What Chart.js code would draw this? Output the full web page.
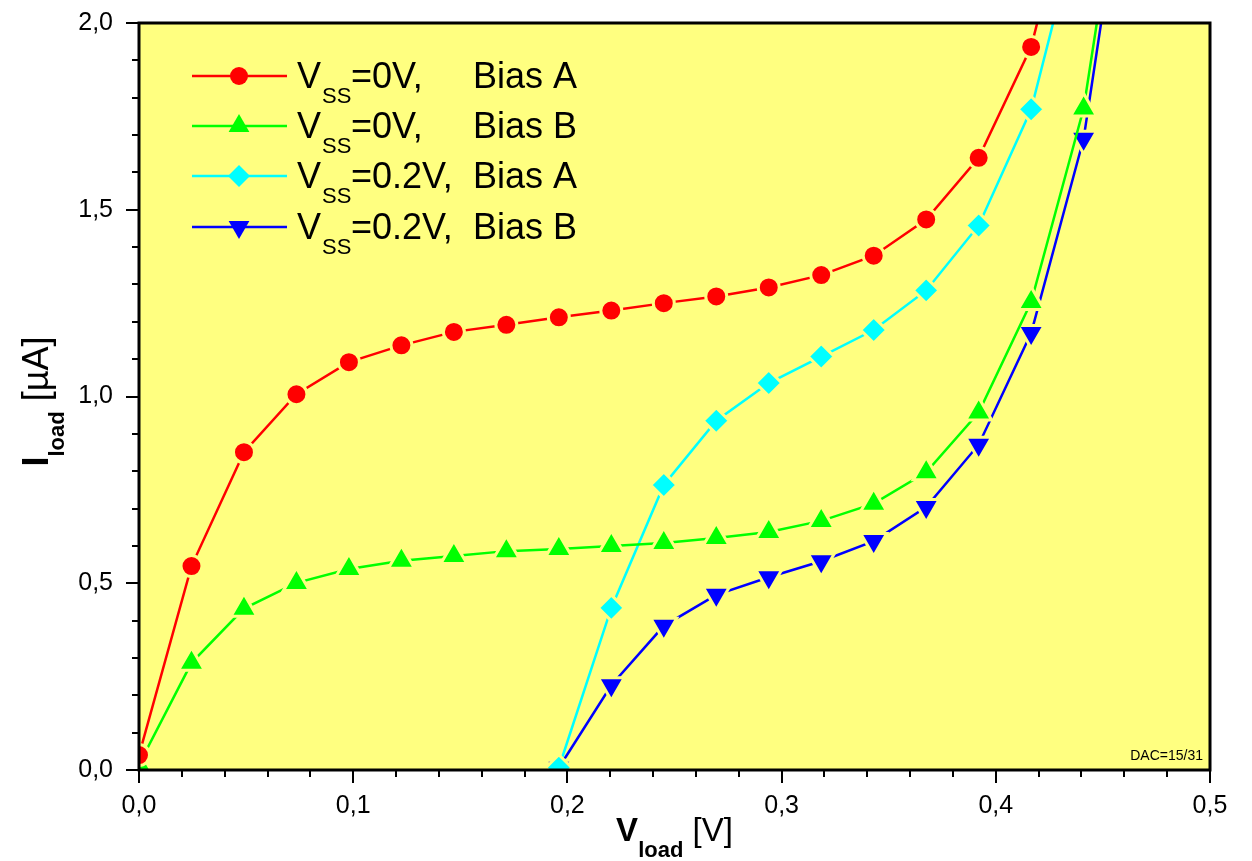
<!DOCTYPE html>
<html>
<head>
<meta charset="utf-8">
<script src="https://cdn.jsdelivr.net/npm/chart.js@4.4.0/dist/chart.umd.min.js"></script>
<style>
body{margin:0;background:#fff;}
#wrap{width:1252px;height:861px;}
</style>
</head>
<body>
<div id="wrap"><canvas id="grafica" width="1252" height="861"></canvas></div>
<script>
// V_load [V] por paso
const vLoad = [0, 0.0245, 0.049, 0.0735, 0.098, 0.1225, 0.147, 0.1715, 0.196, 0.2205,
               0.245, 0.2695, 0.294, 0.3185, 0.343, 0.3675, 0.392, 0.4165, 0.441, 0.4655];

// I_load [uA]
const vss0A = [0.04, 0.546, 0.851, 1.006, 1.092, 1.137, 1.173, 1.192, 1.212, 1.230,
               1.250, 1.268, 1.292, 1.325, 1.377, 1.474, 1.639, 1.936, 2.49];
const vss0B = [0.015, 0.287, 0.432, 0.501, 0.538, 0.560, 0.573, 0.586, 0.592, 0.600,
               0.608, 0.621, 0.637, 0.667, 0.713, 0.797, 0.957, 1.253, 1.771, 2.68];
// Vss=0.2V empiezan en vLoad[8]
const vss2A = [0.006, 0.434, 0.763, 0.935, 1.036, 1.107, 1.178, 1.284, 1.458, 1.769, 2.32];
const vss2B = [0.006, 0.227, 0.386, 0.469, 0.516, 0.559, 0.613, 0.704, 0.871, 1.170, 1.690, 2.62];

const xTicks = [0, 0.1, 0.2, 0.3, 0.4, 0.5];
const yTicks = [0, 0.5, 1.0, 1.5, 2.0];

const legVss = ['0V,', '0V,', '0.2V,', '0.2V,'];
const legBias = ['Bias A', 'Bias B', 'Bias A', 'Bias B'];
const colores = ['#ff0000', '#00ff00', '#00ffff', '#0000ff'];

const FUENTE = "'Liberation Sans', Arial, sans-serif";
const AMARILLO = '#ffff80';

function puntos(serie, desde){
    return serie.map((y, k) => ({x: vLoad[k + desde], y: y}));
}

const estilos = [
    {pointStyle: 'circle', rotation: 0, r: 10.5, rLeg: 9},
    {pointStyle: 'triangle', rotation: 0, r: 15, rLeg: 12},
    {pointStyle: 'rectRot', rotation: 0, r: 13, rLeg: 11},
    {pointStyle: 'triangle', rotation: 180, r: 15, rLeg: 12}
];

function dataset(serie, desde, n){
    return {
        data: puntos(serie, desde),
        borderColor: colores[n],
        backgroundColor: colores[n],
        borderWidth: 2.5,
        pointStyle: estilos[n].pointStyle,
        pointRotation: estilos[n].rotation,
        pointRadius: estilos[n].r,
        pointHoverRadius: estilos[n].r,
        pointBorderColor: AMARILLO,
        pointBorderWidth: 3,
        pointBackgroundColor: colores[n],
        showLine: true,
        tension: 0,
        clip: 0
    };
}

// escribe texto con subindice, centrado en x
function textoSub(ctx, partes, x, y){
    let total = 0;
    partes.forEach(p => { ctx.font = p.font; total += ctx.measureText(p.t).width; });
    let cx = x - total / 2;
    partes.forEach(p => {
        ctx.font = p.font;
        ctx.fillText(p.t, cx, y + p.dy);
        cx += ctx.measureText(p.t).width;
    });
}

const fondo = {
    id: 'fondo',
    beforeDraw(chart){
        const {ctx, chartArea: a} = chart;
        ctx.save();
        ctx.fillStyle = '#fff';
        ctx.fillRect(0, 0, chart.width, chart.height);
        ctx.fillStyle = AMARILLO;
        ctx.fillRect(a.left, a.top, a.right - a.left, a.bottom - a.top);
        ctx.restore();
    }
};

const marco = {
    id: 'marco',
    afterDraw(chart){
        const {ctx, chartArea: a} = chart;
        const sx = chart.scales.x, sy = chart.scales.y;
        ctx.save();
        ctx.strokeStyle = '#000';
        ctx.fillStyle = '#000';

        // ticks menores y mayores
        ctx.lineWidth = 2;
        ctx.beginPath();
        for (let k = 0; k <= 25; k++){
            let px = Math.round(sx.getPixelForValue(k * 0.02));
            let len = (k % 5 == 0) ? 13 : 7;
            ctx.moveTo(px, a.bottom);
            ctx.lineTo(px, a.bottom + len);
        }
        for (let k = 0; k <= 20; k++){
            let py = Math.round(sy.getPixelForValue(k * 0.1));
            let len = (k % 5 == 0) ? 13 : 7;
            ctx.moveTo(a.left, py);
            ctx.lineTo(a.left - len, py);
        }
        ctx.stroke();

        ctx.lineWidth = 3;
        ctx.strokeRect(a.left, a.top, a.right - a.left, a.bottom - a.top);

        // DAC
        ctx.font = '14px ' + FUENTE;
        ctx.textAlign = 'right';
        ctx.textBaseline = 'alphabetic';
        ctx.fillText('DAC=15/31', a.right - 7, a.bottom - 10);

        // leyenda
        ctx.textAlign = 'left';
        const filas = [76, 126, 176, 227];
        filas.forEach((fy, n) => {
            ctx.strokeStyle = colores[n];
            ctx.fillStyle = colores[n];
            ctx.lineWidth = 2.5;
            ctx.beginPath();
            ctx.moveTo(192, fy);
            ctx.lineTo(287, fy);
            ctx.stroke();
            Chart.helpers.drawPoint(ctx, {
                pointStyle: estilos[n].pointStyle,
                rotation: estilos[n].rotation,
                radius: estilos[n].rLeg,
                borderWidth: 0
            }, 239, fy);

            ctx.fillStyle = '#000';
            ctx.font = '36px ' + FUENTE;
            ctx.fillText('V', 297, fy + 12);
            ctx.font = '22px ' + FUENTE;
            ctx.fillText('SS', 322, fy + 27);
            ctx.font = '36px ' + FUENTE;
            ctx.fillText('=' + legVss[n], 351, fy + 12);
            ctx.fillText(legBias[n], 473, fy + 12);
        });

        // titulos de ejes
        ctx.fillStyle = '#000';
        textoSub(ctx, [
            {t: 'V', font: 'bold 33px ' + FUENTE, dy: 0},
            {t: 'load', font: 'bold 22px ' + FUENTE, dy: 16},
            {t: ' [V]', font: '33px ' + FUENTE, dy: 0}
        ], (a.left + a.right) / 2, 841);

        ctx.translate(48, (a.top + a.bottom) / 2 + 5);
        ctx.rotate(-Math.PI / 2);
        textoSub(ctx, [
            {t: 'I', font: 'bold 36px ' + FUENTE, dy: 0},
            {t: 'load', font: 'bold 22px ' + FUENTE, dy: 16},
            {t: ' [µA]', font: '36px ' + FUENTE, dy: 0}
        ], 0, 0);
        ctx.restore();
    }
};

function coma(v){
    return Number(v).toFixed(1).replace('.', ',');
}

// separacion de etiquetas con ticks invisibles (los visibles van en el plugin)
function rejilla(largo){
    return {
        display: true,
        drawOnChartArea: false,
        drawTicks: true,
        tickLength: largo,
        tickColor: 'rgba(0,0,0,0)'
    };
}

new Chart(document.getElementById('grafica'), {
    type: 'scatter',
    data: {
        datasets: [
            dataset(vss0A, 0, 0),
            dataset(vss0B, 0, 1),
            dataset(vss2A, 8, 2),
            dataset(vss2B, 8, 3)
        ]
    },
    options: {
        responsive: false,
        animation: false,
        events: [],
        layout: {padding: {top: 23, right: 42, left: 0, bottom: 0}},
        plugins: {
            legend: {display: false},
            tooltip: {enabled: false}
        },
        scales: {
            x: {
                type: 'linear',
                min: 0,
                max: 0.5,
                afterBuildTicks: s => { s.ticks = xTicks.map(v => ({value: v})); },
                afterFit: s => { s.height = 91; },
                grid: rejilla(21),
                border: {display: false},
                ticks: {
                    callback: v => coma(v),
                    color: '#000',
                    font: {family: FUENTE, size: 25},
                    padding: 0,
                    maxRotation: 0,
                    autoSkip: false
                }
            },
            y: {
                type: 'linear',
                min: 0,
                max: 2,
                afterBuildTicks: s => { s.ticks = yTicks.map(v => ({value: v})); },
                afterFit: s => { s.width = 139; },
                grid: rejilla(26),
                border: {display: false},
                ticks: {
                    callback: v => coma(v),
                    color: '#000',
                    font: {family: FUENTE, size: 25},
                    padding: 0,
                    autoSkip: false
                }
            }
        }
    },
    plugins: [fondo, marco]
});
</script>
</body>
</html>
